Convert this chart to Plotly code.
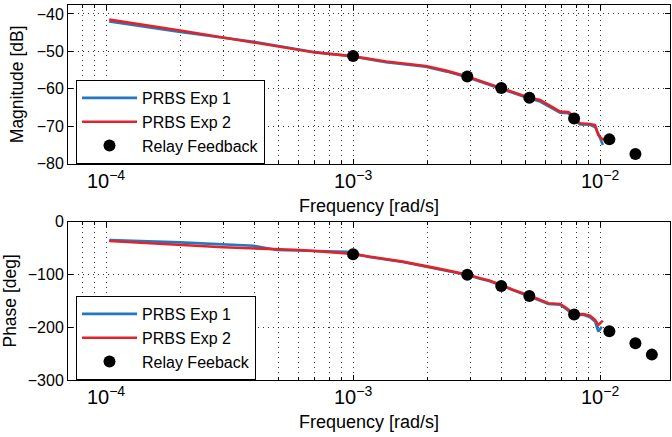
import plotly.graph_objects as go
from plotly.subplots import make_subplots

# ---------------- data ----------------
# PRBS Exp 1 (blue) magnitude
f_mag_exp1 = [1.03e-4, 2.0e-4, 3.95e-4, 5.5e-4, 7.0e-4, 9.8e-4, 1.36e-3, 1.97e-3, 2.4e-3, 2.9e-3,
              3.5e-3, 3.98e-3, 4.46e-3, 5.17e-3, 5.72e-3, 6.27e-3, 6.89e-3, 7.44e-3, 7.85e-3,
              8.30e-3, 9.10e-3, 9.54e-3, 9.84e-3, 1.026e-2]
mag_exp1 = [-42.0, -44.8, -47.4, -49.0, -50.2, -51.3, -52.9, -54.1, -55.4, -56.9,
            -58.8, -60.0, -61.3, -62.6, -63.4, -64.9, -66.4, -66.5, -68.3,
            -69.5, -69.6, -70.2, -72.0, -75.0]

# PRBS Exp 2 (red) magnitude
f_mag_exp2 = [1.03e-4, 2.0e-4, 3.95e-4, 5.5e-4, 7.0e-4, 9.8e-4, 1.36e-3, 1.97e-3, 2.4e-3, 2.9e-3,
              3.5e-3, 3.98e-3, 4.46e-3, 5.17e-3, 5.72e-3, 6.27e-3, 6.89e-3, 7.44e-3, 7.56e-3, 7.85e-3,
              8.30e-3, 9.10e-3, 9.54e-3, 9.84e-3, 1.016e-2, 1.048e-2]
mag_exp2 = [-41.5, -44.4, -47.6, -49.1, -50.3, -51.2, -52.7, -53.9, -55.2, -56.7,
            -58.5, -59.8, -61.0, -62.4, -63.0, -64.6, -66.1, -66.2, -66.5, -68.1,
            -69.2, -69.4, -69.7, -72.4, -73.3, -73.7]

# PRBS Exp 1 (blue) phase
f_ph_exp1 = [1.03e-4, 1.99e-4, 3.95e-4, 4.91e-4, 9.42e-4, 1.16e-3, 1.59e-3, 2.17e-3, 2.9e-3,
             3.27e-3, 3.56e-3, 3.98e-3, 4.46e-3, 5.17e-3, 5.72e-3, 6.18e-3, 6.89e-3, 7.33e-3,
             7.85e-3, 8.56e-3, 9.10e-3, 9.54e-3, 9.84e-3, 1.016e-2]
ph_exp1 = [-34.7, -39.2, -45.6, -53.7, -56.9, -66.8, -76.5, -88.5, -101.0,
           -108.0, -112.5, -121.0, -130.2, -141.0, -149.5, -156.0, -157.5, -166.0,
           -176.5, -176.5, -181.0, -189.0, -208.3, -199.0]

# PRBS Exp 2 (red) phase
f_ph_exp2 = [1.03e-4, 1.99e-4, 2.98e-4, 6.1e-4, 9.42e-4, 1.16e-3, 1.59e-3, 2.17e-3, 2.9e-3,
             3.27e-3, 3.56e-3, 3.98e-3, 4.46e-3, 5.17e-3, 5.72e-3, 6.18e-3, 6.89e-3, 7.33e-3,
             7.85e-3, 8.56e-3, 9.10e-3, 9.54e-3, 9.84e-3, 1.026e-2]
ph_exp2 = [-36.6, -44.0, -48.5, -53.7, -60.0, -66.0, -75.7, -88.0, -100.0,
           -107.2, -111.6, -120.0, -129.4, -140.0, -148.3, -154.6, -155.9, -164.0,
           -175.4, -174.8, -178.0, -186.2, -195.6, -187.5]

# Relay feedback points
f_relay_mag = [1.0e-3, 2.90e-3, 3.98e-3, 5.17e-3, 7.85e-3, 1.09e-2, 1.39e-2]
mag_relay = [-51.2, -56.7, -59.8, -62.4, -67.9, -73.5, -77.4]
f_relay_ph = [1.0e-3, 2.90e-3, 3.98e-3, 5.17e-3, 7.85e-3, 1.09e-2, 1.39e-2, 1.62e-2]
ph_relay = [-61.7, -100.4, -121.8, -140.7, -176.0, -207.6, -230.3, -251.9]

# ---------------- style ----------------
BLUE = "#2378bf"
RED = "#e3232a"
FONT = "Liberation Sans, Arial, Helvetica, sans-serif"
GRID = "rgba(0,0,0,0.8)"

fig = make_subplots(rows=2, cols=1)

fig.add_trace(go.Scatter(x=f_mag_exp1, y=mag_exp1, mode="lines", name="PRBS Exp 1",
                         line=dict(color=BLUE, width=2.6), legend="legend"), row=1, col=1)
fig.add_trace(go.Scatter(x=f_mag_exp2, y=mag_exp2, mode="lines", name="PRBS Exp 2",
                         line=dict(color=RED, width=2.6), legend="legend"), row=1, col=1)
fig.add_trace(go.Scatter(x=f_relay_mag, y=mag_relay, mode="markers", name="Relay Feedback",
                         marker=dict(color="black", size=12), legend="legend"), row=1, col=1)

fig.add_trace(go.Scatter(x=f_ph_exp1, y=ph_exp1, mode="lines", name="PRBS Exp 1",
                         line=dict(color=BLUE, width=2.6), legend="legend2"), row=2, col=1)
fig.add_trace(go.Scatter(x=f_ph_exp2, y=ph_exp2, mode="lines", name="PRBS Exp 2",
                         line=dict(color=RED, width=2.6), legend="legend2"), row=2, col=1)
fig.add_trace(go.Scatter(x=f_relay_ph, y=ph_relay, mode="markers", name="Relay Feeback",
                         marker=dict(color="black", size=12), legend="legend2"), row=2, col=1)

xcommon = dict(
    type="log", range=[-4.154, -1.717], tickmode="linear", tick0=0, dtick=1,
    exponentformat="power", showexponent="all",
    ticks="inside", ticklen=5, tickcolor="black",
    showline=True, linecolor="black", linewidth=1, mirror="allticks",
    showgrid=True, gridcolor=GRID, griddash="1px,4px", gridwidth=1,
    minor=dict(dtick="D1", ticks="inside", ticklen=3, tickcolor="black",
               showgrid=True, gridcolor=GRID, griddash="1px,4px", gridwidth=1),
    tickfont=dict(family=FONT, size=16, color="black"),
    title=dict(text="Frequency [rad/s]", font=dict(family=FONT, size=18, color="black"),
               standoff=8),
    zeroline=False, automargin=False,
)
ycommon = dict(
    ticks="inside", ticklen=5, tickcolor="black",
    showline=True, linecolor="black", linewidth=1, mirror="allticks",
    showgrid=True, gridcolor=GRID, griddash="1px,4px", gridwidth=1,
    tickfont=dict(family=FONT, size=16, color="black"),
    zeroline=False, automargin=False,
)

fig.update_xaxes(**xcommon)
fig.update_yaxes(**ycommon)

fig.update_yaxes(range=[-80, -37.6], tickmode="linear", tick0=-80, dtick=10,
                 title=dict(text="Magnitude [dB]", font=dict(family=FONT, size=17.5, color="black"),
                            standoff=8),
                 domain=[0.5768, 1.0], row=1, col=1)
fig.update_yaxes(range=[-300, 0], tickmode="linear", tick0=-300, dtick=100,
                 title=dict(text="Phase [deg]", font=dict(family=FONT, size=17.5, color="black"),
                            standoff=8),
                 domain=[0.0, 0.4221], row=2, col=1)

legend_common = dict(
    bgcolor="white", bordercolor="black", borderwidth=1,
    font=dict(family=FONT, size=16, color="black"),
    xanchor="left", yanchor="top", itemwidth=55, tracegroupgap=0,
    itemclick=False,
)

fig.update_layout(
    width=672, height=437,
    margin=dict(l=68, r=2, t=5, b=57, autoexpand=False),
    paper_bgcolor="white", plot_bgcolor="white",
    font=dict(family=FONT, size=16, color="black"),
    legend=dict(x=0.0133, y=0.80, **legend_common),
    legend2=dict(x=0.0133, y=0.224, **legend_common),
    showlegend=True,
)

fig.write_html("out.html",
               config={"displayModeBar": False},
               post_script="document.body.style.margin='0';document.body.style.overflow='hidden';")
